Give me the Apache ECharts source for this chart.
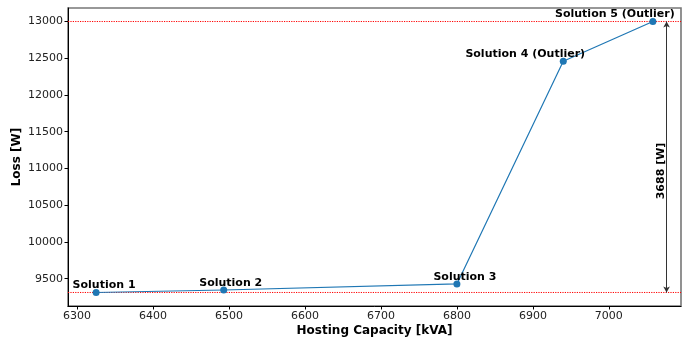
<!DOCTYPE html>
<html>
<head>
<meta charset="utf-8">
<script src="https://cdn.jsdelivr.net/npm/echarts@6/dist/echarts.min.js"></script>
<style>
html,body{margin:0;padding:0;background:#fff;}
#chart{width:698px;height:339px;}
</style>
</head>
<body>
<div id="chart"></div>
<script>
// ---- data ----
const hostingCapacity = [6325, 6493, 6800, 6940, 7058];
const loss = [9312, 9346, 9428, 12459, 13000];
const solutionNames = ['Solution 1', 'Solution 2', 'Solution 3', 'Solution 4 (Outlier)', 'Solution 5 (Outlier)'];
const xTicks = [6300, 6400, 6500, 6600, 6700, 6800, 6900, 7000];
const yTicks = [9500, 10000, 10500, 11000, 11500, 12000, 12500, 13000];
const arrowX = 7076;

// ---- styling ----
const labelOffsets = [[8, -7], [7, -7], [8, -7], [-38, -7], [-38, -7]];
const FONT = 'DejaVu Sans';

const minLoss = Math.min(...loss);
const maxLoss = Math.max(...loss);
const diff = maxLoss - minLoss;

const xMin = 6288, xMax = 7095;
const yMin = 9128, yMax = 13184;

const chart = echarts.init(document.getElementById('chart'), null, {renderer: 'canvas'});

const seriesData = hostingCapacity.map((x, i) => ({
  value: [x, loss[i]],
  label: {
    show: true,
    formatter: solutionNames[i],
    position: 'inside',
    offset: labelOffsets[i],
    fontFamily: FONT,
    fontWeight: 'bold',
    fontSize: 11,
    color: '#000',
    align: 'center',
    verticalAlign: 'middle'
  }
}));

function hLine(v) {
  return {
    type: 'line',
    data: [[xMin, v], [xMax, v]],
    silent: true,
    symbol: 'none',
    z: 3,
    lineStyle: {color: '#ff0000', type: [1.2, 1.2], width: 1},
    itemStyle: {color: '#ff0000'},
    emphasis: {disabled: true}
  };
}

chart.setOption({
  animation: false,
  backgroundColor: '#fff',
  grid: {
    left: 68, right: 17, top: 8, bottom: 33,
    outerBoundsMode: 'none',
    containLabel: false,
    show: true, borderColor: '#777', borderWidth: 1.6, backgroundColor: 'transparent'
  },
  xAxis: {
    type: 'value',
    min: xMin, max: xMax,
    name: 'Hosting Capacity [kVA]',
    nameLocation: 'middle',
    nameGap: 19,
    nameMoveOverlap: false,
    nameTextStyle: {fontFamily: FONT, fontWeight: 'bold', fontSize: 12, color: '#000'},
    axisLine: {show: true, onZero: false, lineStyle: {color: '#000', width: 1}},
    axisTick: {show: true, length: 3.5, lineStyle: {color: '#000'}, customValues: xTicks},
    axisLabel: {fontFamily: FONT, fontSize: 11, color: '#222', margin: 5,
      customValues: xTicks, formatter: v => String(v)},
    splitLine: {show: false}
  },
  yAxis: {
    type: 'value',
    min: yMin, max: yMax,
    name: 'Loss [W]',
    nameLocation: 'middle',
    nameGap: 45,
    nameMoveOverlap: false,
    nameTextStyle: {fontFamily: FONT, fontWeight: 'bold', fontSize: 12, color: '#000'},
    axisLine: {show: true, onZero: false, lineStyle: {color: '#000', width: 1}},
    axisTick: {show: true, length: 3.5, lineStyle: {color: '#000'}, customValues: yTicks},
    axisLabel: {fontFamily: FONT, fontSize: 11, color: '#222', margin: 5,
      customValues: yTicks, formatter: v => String(v)},
    splitLine: {show: false}
  },
  series: [
    hLine(minLoss),
    hLine(maxLoss),
    {
      type: 'line',
      data: seriesData,
      symbol: 'circle',
      symbolSize: 7,
      itemStyle: {color: '#1f77b4'},
      lineStyle: {color: '#1f77b4', width: 1.2},
      z: 5
    },
    {
      type: 'line',
      data: [],
      markLine: {
        silent: true,
        symbol: ['arrow', 'arrow'],
        symbolSize: [5, 6],
        lineStyle: {color: '#333', type: 'solid', width: 1},
        label: {
          show: true,
          position: 'middle',
          formatter: diff + ' [W]',
          fontFamily: FONT, fontWeight: 'bold', fontSize: 11, color: '#000',
          distance: 4,
          offset: [-18, 0]
        },
        data: [[{coord: [arrowX, minLoss]}, {coord: [arrowX, maxLoss]}]]
      }
    }
  ]
});
</script>
</body>
</html>
